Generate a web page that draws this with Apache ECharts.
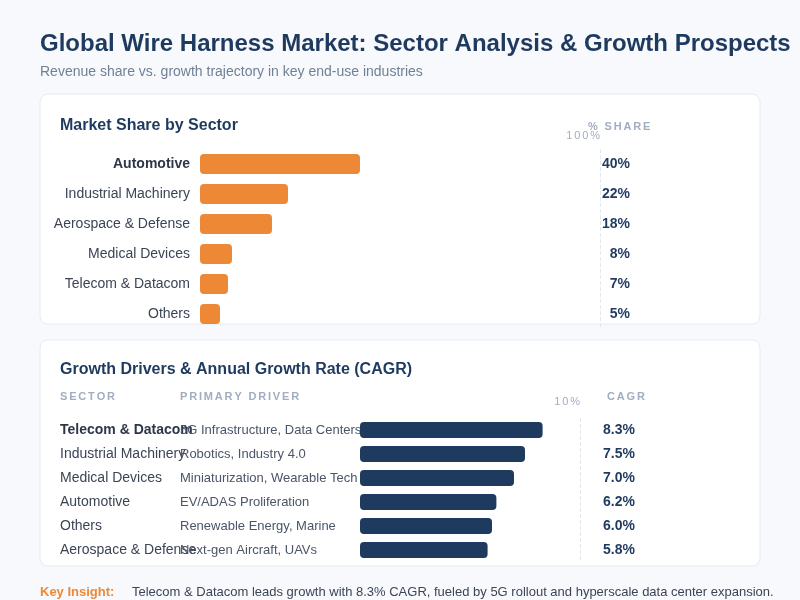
<!DOCTYPE html>
<html>
<head>
<meta charset="utf-8">
<title>Global Wire Harness Market</title>
<script src="https://cdn.jsdelivr.net/npm/echarts@6/dist/echarts.min.js"></script>
<style>
  html, body { margin: 0; padding: 0; background: #f7f9fc; }
  #main { width: 800px; height: 600px; }
</style>
</head>
<body>
<div id="main"></div>
<script>
// market share by sector (%)
var shareSectors = ['Automotive', 'Industrial Machinery', 'Aerospace & Defense', 'Medical Devices', 'Telecom & Datacom', 'Others'];
var shareValues = [40, 22, 18, 8, 7, 5];

// growth (CAGR %) by sector
var growthSectors = ['Telecom & Datacom', 'Industrial Machinery', 'Medical Devices', 'Automotive', 'Others', 'Aerospace & Defense'];
var growthDrivers = ['5G Infrastructure, Data Centers', 'Robotics, Industry 4.0', 'Miniaturization, Wearable Tech', 'EV/ADAS Proliferation', 'Renewable Energy, Marine', 'Next-gen Aircraft, UAVs'];
var growthValues = [8.3, 7.5, 7.0, 6.2, 6.0, 5.8];

var FONT = '"Liberation Sans", Arial, Helvetica, sans-serif';
var NAVY = '#1e3a5f';
var ORANGE = '#ed8936';
var MUTED = '#a0aec0';
var TEXT = '#3b4556';

// letterSpacing is not honoured by the text renderer, so pad with narrow spaces
function spaced(s) {
    return s.split('').join('\u2006');
}

var chart = echarts.init(document.getElementById('main'));

var option = {
    backgroundColor: '#f7f9fc',
    textStyle: { fontFamily: FONT },
    animation: false,
    graphic: [
        // panels
        { type: 'rect', shape: { x: 40, y: 94, width: 720, height: 230, r: 8 }, style: { fill: '#fff', stroke: '#e6ebf2', lineWidth: 1 }, z: -10 },
        { type: 'rect', shape: { x: 40, y: 340, width: 720, height: 226, r: 8 }, style: { fill: '#fff', stroke: '#e6ebf2', lineWidth: 1 }, z: -10 },
        // titles
        { type: 'text', left: 40, top: 32, style: { text: 'Global Wire Harness Market: Sector Analysis & Growth Prospects', fill: NAVY, font: 'bold 24px ' + FONT } },
        { type: 'text', left: 40, top: 65, style: { text: 'Revenue share vs. growth trajectory in key end-use industries', fill: '#718096', font: '14px ' + FONT } },
        { type: 'text', left: 60, top: 118, style: { text: 'Market Share by Sector', fill: NAVY, font: 'bold 16px ' + FONT } },
        { type: 'text', left: 588, top: 121, style: { text: spaced('% SHARE'), fill: MUTED, font: 'bold 11px ' + FONT } },
        { type: 'text', left: 60, top: 362, style: { text: 'Growth Drivers & Annual Growth Rate (CAGR)', fill: NAVY, font: 'bold 16px ' + FONT } },
        { type: 'text', left: 60, top: 391, style: { text: spaced('SECTOR'), fill: MUTED, font: 'bold 11px ' + FONT } },
        { type: 'text', left: 180, top: 391, style: { text: spaced('PRIMARY DRIVER'), fill: MUTED, font: 'bold 11px ' + FONT } },
        { type: 'text', left: 607, top: 391, style: { text: spaced('CAGR'), fill: MUTED, font: 'bold 11px ' + FONT } },
        // footer
        { type: 'text', left: 40, top: 586, style: { text: 'Key Insight:', fill: ORANGE, font: 'bold 13px ' + FONT } },
        { type: 'text', left: 132, top: 586, style: { text: 'Telecom & Datacom leads growth with 8.3% CAGR, fueled by 5G rollout and hyperscale data center expansion.', fill: '#3b4556', font: '13px ' + FONT } }
    ],
    grid: [
        { left: 200, top: 149, width: 400, height: 180 },
        { left: 360, top: 418, width: 220, height: 144 }
    ],
    xAxis: [
        {
            gridIndex: 0, type: 'value', position: 'top', min: 0, max: 100, interval: 100,
            axisLine: { show: false }, axisTick: { show: false },
            axisLabel: {
                color: MUTED, fontSize: 11, margin: 8, alignMaxLabel: 'right',
                formatter: function (v) { return v === 100 ? spaced('100%') : ''; }
            },
            splitLine: { lineStyle: { color: ['transparent', '#e2e8f0'], type: 'dashed', width: 1 } }
        },
        {
            gridIndex: 1, type: 'value', position: 'top', min: 0, max: 10, interval: 10,
            axisLine: { show: false }, axisTick: { show: false },
            axisLabel: {
                color: MUTED, fontSize: 11, margin: 11, alignMaxLabel: 'right',
                formatter: function (v) { return v === 10 ? spaced('10%') : ''; }
            },
            splitLine: { lineStyle: { color: ['transparent', '#e2e8f0'], type: 'dashed', width: 1 } }
        }
    ],
    yAxis: [
        {
            gridIndex: 0, type: 'category', inverse: true, data: shareSectors,
            axisLine: { show: false }, axisTick: { show: false },
            axisLabel: {
                margin: 10, fontSize: 14, color: TEXT,
                formatter: function (v, i) { return i === 0 ? '{b|' + v + '}' : v; },
                rich: { b: { fontWeight: 'bold', fontSize: 14, color: '#2d3748' } }
            }
        },
        {
            gridIndex: 0, type: 'category', inverse: true, position: 'right',
            data: shareValues.map(function (v) { return v + '%'; }),
            axisLine: { show: false }, axisTick: { show: false },
            axisLabel: { margin: 30, align: 'right', fontSize: 14, fontWeight: 'bold', color: NAVY }
        },
        {
            gridIndex: 1, type: 'category', inverse: true, position: 'left', data: growthSectors,
            axisLine: { show: false }, axisTick: { show: false },
            axisLabel: {
                margin: 300, align: 'left', fontSize: 14, color: TEXT,
                formatter: function (v, i) { return i === 0 ? '{b|' + v + '}' : v; },
                rich: { b: { fontWeight: 'bold', fontSize: 14, color: '#2d3748' } }
            }
        },
        {
            gridIndex: 1, type: 'category', inverse: true, position: 'left', data: growthDrivers,
            axisLine: { show: false }, axisTick: { show: false },
            axisLabel: { margin: 180, align: 'left', fontSize: 13, color: '#4a5568' }
        },
        {
            gridIndex: 1, type: 'category', inverse: true, position: 'right',
            data: growthValues.map(function (v) { return v.toFixed(1) + '%'; }),
            axisLine: { show: false }, axisTick: { show: false },
            axisLabel: { margin: 23, align: 'left', fontSize: 14, fontWeight: 'bold', color: NAVY }
        }
    ],
    series: [
        {
            name: 'Market Share', type: 'bar', xAxisIndex: 0, yAxisIndex: 0,
            data: shareValues, barWidth: 20,
            itemStyle: { color: ORANGE, borderRadius: 4 }
        },
        {
            name: 'CAGR', type: 'bar', xAxisIndex: 1, yAxisIndex: 2,
            data: growthValues, barWidth: 16,
            itemStyle: { color: NAVY, borderRadius: 4 }
        }
    ]
};

chart.setOption(option);
</script>
</body>
</html>
